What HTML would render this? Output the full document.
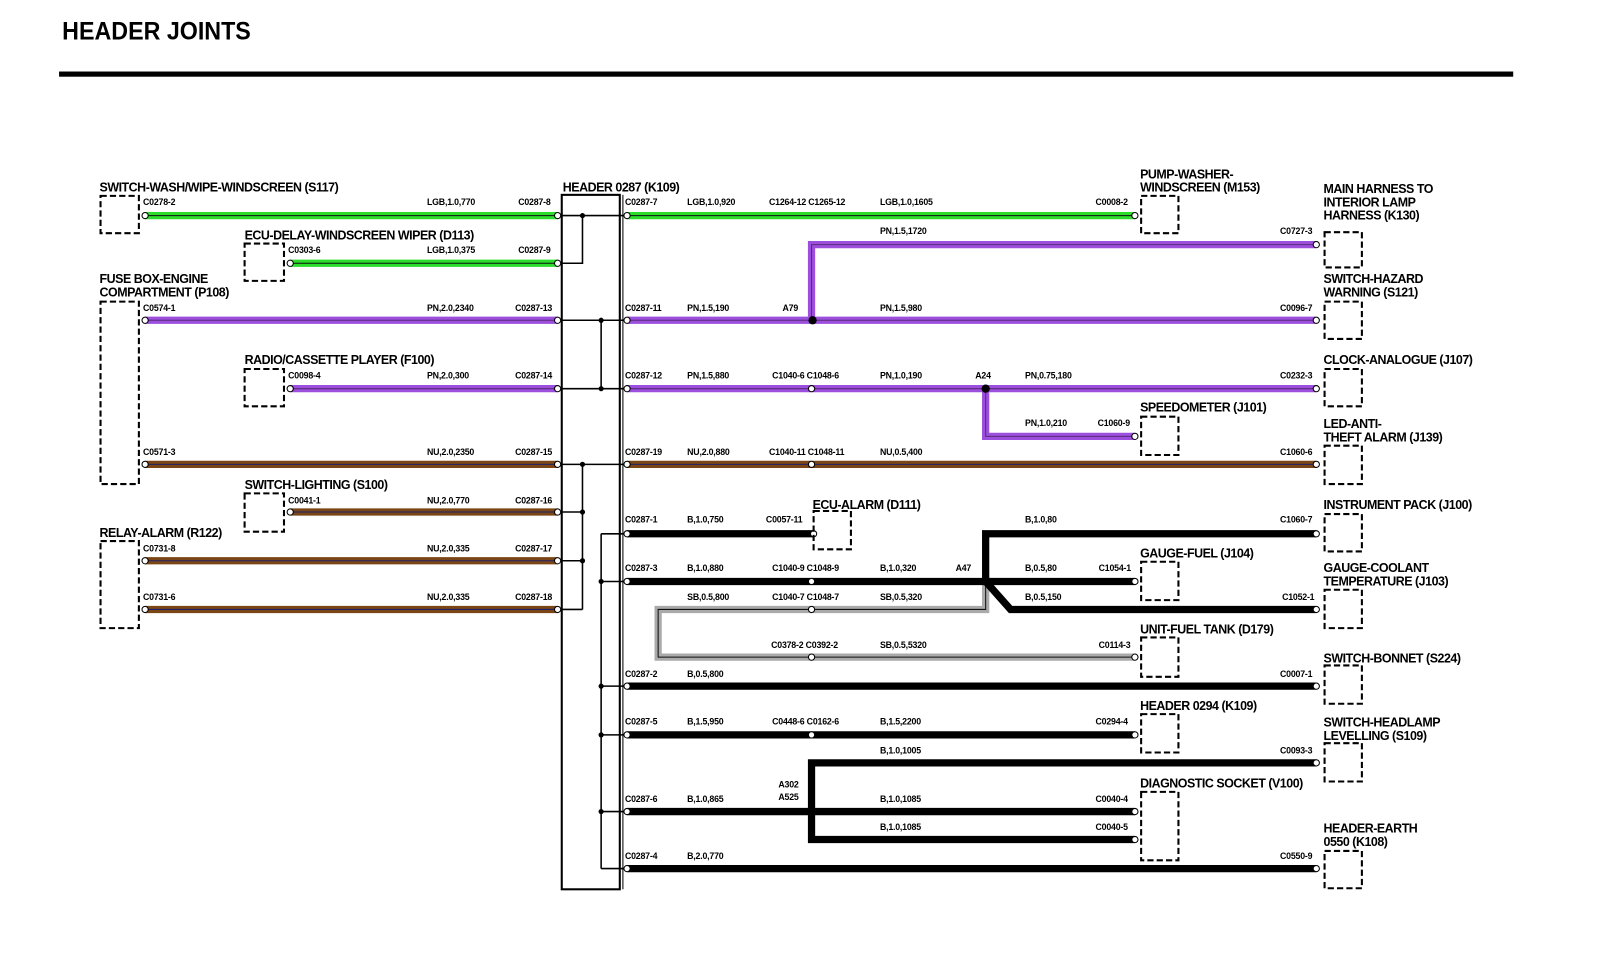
<!DOCTYPE html>
<html><head><meta charset="utf-8"><style>
html,body{margin:0;padding:0;background:#fff;}
svg{display:block;}
.t{font-family:"Liberation Sans",sans-serif;font-weight:bold;font-size:12px;letter-spacing:-0.45px;fill:#000;}
.s{font-family:"Liberation Sans",sans-serif;font-weight:bold;font-size:8.5px;letter-spacing:-0.2px;fill:#000;}
.box{fill:none;stroke:#000;stroke-width:2;stroke-dasharray:6,3;}
</style></head><body>
<svg width="1621" height="966" viewBox="0 0 1564 932" preserveAspectRatio="none" xmlns="http://www.w3.org/2000/svg">
<text x="60" y="38" style="font-family:'Liberation Sans',sans-serif;font-weight:bold;font-size:24px" textLength="182" lengthAdjust="spacingAndGlyphs">HEADER JOINTS</text>
<rect x="57" y="69" width="1403" height="5" fill="#000"/>

<rect x="542" y="188" width="56" height="670" fill="none" stroke="#000" stroke-width="2"/>
<line x1="601" y1="188" x2="601" y2="858" stroke="#000" stroke-width="1"/>

<g fill="none" stroke-linejoin="miter">
<g stroke="#2bdc2b" stroke-width="7">
<path d="M140 208H538M605 208H1095M280 254H538"/>
</g>
<g stroke="#111" stroke-width="1"><path d="M140 208H538M605 208H1095M280 254H538"/></g>
<g stroke="#9b4fdc" stroke-width="7">
<path d="M140 309H538M605 309H1270M783 309V236H1270M280 375H538M605 375H1270M951 375V421H1095"/>
</g>
<g stroke="#5a2a7a" stroke-width="1"><path d="M140 309H538M605 309H1270M783 309V236H1270M280 375H538M605 375H1270M951 375V421H1095"/></g>
<g stroke="#7a4616" stroke-width="7">
<path d="M140 448H538M605 448H1270M280 494H538M140 541H538M140 588H538"/>
</g>
<g stroke="#22226a" stroke-width="1"><path d="M140 448H538M605 448H1270M280 494H538M140 541H538M140 588H538"/></g>
<path d="M951 561V588H635V634H1095" stroke="#aaa" stroke-width="7"/>
<path d="M951 561V588H635V634H1095" stroke="#111" stroke-width="1"/>
<g stroke="#000" stroke-width="7">
<path d="M605 515H785M951 561V515H1270M605 561H1095M951 561L975 588H1270M605 662H1270M605 709H1095M783 783V736H1270M783 783V810H1095M605 783H1095M605 838H1270"/>
</g>
</g>
<circle cx="784" cy="309" r="4" fill="#000"/>
<circle cx="951" cy="375" r="4" fill="#000"/>

<g stroke="#000" stroke-width="1.5" fill="none">
<path d="M538 208H605M538 254H562V208"/>
<path d="M538 309H605M538 375H605M580 309V375"/>
<path d="M538 448H605M538 494H562M538 541H562M538 588H562M562 448V588"/>
<path d="M580 515H605M580 561H605M580 662H605M580 709H605M580 783H605M580 838H605M580 515V838"/>
</g>
<g fill="#000">
<circle cx="562" cy="208" r="2.5"/><circle cx="580" cy="309" r="2.5"/><circle cx="580" cy="375" r="2.5"/>
<circle cx="562" cy="448" r="2.5"/><circle cx="562" cy="494" r="2.5"/><circle cx="562" cy="541" r="2.5"/>
<circle cx="580" cy="561" r="2.5"/><circle cx="580" cy="662" r="2.5"/><circle cx="580" cy="709" r="2.5"/><circle cx="580" cy="783" r="2.5"/>
</g>

<g fill="#fff" stroke="#000" stroke-width="1">
<circle cx="140" cy="208" r="3"/><circle cx="538" cy="208" r="3"/><circle cx="605" cy="208" r="3"/><circle cx="1095" cy="208" r="3"/>
<circle cx="280" cy="254" r="3"/><circle cx="538" cy="254" r="3"/>
<circle cx="1270" cy="236" r="3"/>
<circle cx="140" cy="309" r="3"/><circle cx="538" cy="309" r="3"/><circle cx="605" cy="309" r="3"/><circle cx="1270" cy="309" r="3"/>
<circle cx="280" cy="375" r="3"/><circle cx="538" cy="375" r="3"/><circle cx="605" cy="375" r="3"/><circle cx="783" cy="375" r="3"/><circle cx="1270" cy="375" r="3"/>
<circle cx="1095" cy="421" r="3"/>
<circle cx="140" cy="448" r="3"/><circle cx="538" cy="448" r="3"/><circle cx="605" cy="448" r="3"/><circle cx="783" cy="448" r="3"/><circle cx="1270" cy="448" r="3"/>
<circle cx="280" cy="494" r="3"/><circle cx="538" cy="494" r="3"/>
<circle cx="140" cy="541" r="3"/><circle cx="538" cy="541" r="3"/>
<circle cx="140" cy="588" r="3"/><circle cx="538" cy="588" r="3"/>
<circle cx="605" cy="515" r="3"/><circle cx="785" cy="515" r="3"/><circle cx="1270" cy="515" r="3"/>
<circle cx="605" cy="561" r="3"/><circle cx="783" cy="561" r="3"/><circle cx="1095" cy="561" r="3"/>
<circle cx="783" cy="588" r="3"/><circle cx="1270" cy="588" r="3"/>
<circle cx="783" cy="634" r="3"/><circle cx="1095" cy="634" r="3"/>
<circle cx="605" cy="662" r="3"/><circle cx="1270" cy="662" r="3"/>
<circle cx="605" cy="709" r="3"/><circle cx="783" cy="709" r="3"/><circle cx="1095" cy="709" r="3"/>
<circle cx="1270" cy="736" r="3"/>
<circle cx="605" cy="783" r="3"/><circle cx="1095" cy="783" r="3"/><circle cx="1095" cy="810" r="3"/>
<circle cx="605" cy="838" r="3"/><circle cx="1270" cy="838" r="3"/>
</g>

<g class="box">
<rect x="97" y="189" width="37" height="36"/>
<rect x="236" y="235" width="38" height="36"/>
<rect x="97" y="291" width="37" height="176"/>
<rect x="236" y="356" width="38" height="36"/>
<rect x="236" y="476" width="38" height="37"/>
<rect x="97" y="522" width="37" height="84"/>
<rect x="1101" y="189" width="36" height="36"/>
<rect x="1278" y="224" width="36" height="34"/>
<rect x="1278" y="291" width="36" height="36"/>
<rect x="1278" y="356" width="36" height="36"/>
<rect x="1101" y="402" width="36" height="37"/>
<rect x="1278" y="430" width="36" height="37"/>
<rect x="785" y="493" width="36" height="37"/>
<rect x="1278" y="496" width="36" height="36"/>
<rect x="1101" y="542" width="36" height="37"/>
<rect x="1278" y="569" width="36" height="37"/>
<rect x="1101" y="615" width="36" height="38"/>
<rect x="1278" y="642" width="36" height="37"/>
<rect x="1101" y="689" width="36" height="37"/>
<rect x="1278" y="717" width="36" height="37"/>
<rect x="1101" y="764" width="36" height="66"/>
<rect x="1278" y="821" width="36" height="36"/>
</g>

<g class="t">
<text x="96" y="185">SWITCH-WASH/WIPE-WINDSCREEN (S117)</text>
<text x="236" y="231">ECU-DELAY-WINDSCREEN WIPER (D113)</text>
<text x="96" y="273">FUSE BOX-ENGINE</text><text x="96" y="286">COMPARTMENT (P108)</text>
<text x="236" y="351">RADIO/CASSETTE PLAYER (F100)</text>
<text x="236" y="472">SWITCH-LIGHTING (S100)</text>
<text x="96" y="518">RELAY-ALARM (R122)</text>
<text x="543" y="185">HEADER 0287 (K109)</text>
<text x="1100" y="172">PUMP-WASHER-</text><text x="1100" y="185">WINDSCREEN (M153)</text>
<text x="1277" y="186">MAIN HARNESS TO</text><text x="1277" y="199">INTERIOR LAMP</text><text x="1277" y="212">HARNESS (K130)</text>
<text x="1277" y="273">SWITCH-HAZARD</text><text x="1277" y="286">WARNING (S121)</text>
<text x="1277" y="351">CLOCK-ANALOGUE (J107)</text>
<text x="1100" y="397">SPEEDOMETER (J101)</text>
<text x="1277" y="413">LED-ANTI-</text><text x="1277" y="426">THEFT ALARM (J139)</text>
<text x="784" y="491">ECU-ALARM (D111)</text>
<text x="1277" y="491">INSTRUMENT PACK (J100)</text>
<text x="1100" y="538">GAUGE-FUEL (J104)</text>
<text x="1277" y="552">GAUGE-COOLANT</text><text x="1277" y="565">TEMPERATURE (J103)</text>
<text x="1100" y="611">UNIT-FUEL TANK (D179)</text>
<text x="1277" y="639">SWITCH-BONNET (S224)</text>
<text x="1100" y="685">HEADER 0294 (K109)</text>
<text x="1277" y="701">SWITCH-HEADLAMP</text><text x="1277" y="714">LEVELLING (S109)</text>
<text x="1100" y="760">DIAGNOSTIC SOCKET (V100)</text>
<text x="1277" y="803">HEADER-EARTH</text><text x="1277" y="816">0550 (K108)</text>
</g>

<g class="s">
<text x="138" y="198">C0278-2</text><text x="412" y="198">LGB,1.0,770</text><text x="500" y="198">C0287-8</text>
<text x="603" y="198">C0287-7</text><text x="663" y="198">LGB,1.0,920</text><text x="742" y="198">C1264-12 C1265-12</text><text x="849" y="198">LGB,1.0,1605</text><text x="1057" y="198">C0008-2</text>
<text x="849" y="226">PN,1.5,1720</text><text x="1235" y="226">C0727-3</text>
<text x="278" y="244">C0303-6</text><text x="412" y="244">LGB,1.0,375</text><text x="500" y="244">C0287-9</text>
<text x="138" y="300">C0574-1</text><text x="412" y="300">PN,2.0,2340</text><text x="497" y="300">C0287-13</text>
<text x="603" y="300">C0287-11</text><text x="663" y="300">PN,1.5,190</text><text x="755" y="300">A79</text><text x="849" y="300">PN,1.5,980</text><text x="1235" y="300">C0096-7</text>
<text x="278" y="365">C0098-4</text><text x="412" y="365">PN,2.0,300</text><text x="497" y="365">C0287-14</text>
<text x="603" y="365">C0287-12</text><text x="663" y="365">PN,1.5,880</text><text x="745" y="365">C1040-6 C1048-6</text><text x="849" y="365">PN,1.0,190</text><text x="941" y="365">A24</text><text x="989" y="365">PN,0.75,180</text><text x="1235" y="365">C0232-3</text>
<text x="989" y="411">PN,1.0,210</text><text x="1059" y="411">C1060-9</text>
<text x="138" y="439">C0571-3</text><text x="412" y="439">NU,2.0,2350</text><text x="497" y="439">C0287-15</text>
<text x="603" y="439">C0287-19</text><text x="663" y="439">NU,2.0,880</text><text x="742" y="439">C1040-11 C1048-11</text><text x="849" y="439">NU,0.5,400</text><text x="1235" y="439">C1060-6</text>
<text x="278" y="486">C0041-1</text><text x="412" y="486">NU,2.0,770</text><text x="497" y="486">C0287-16</text>
<text x="603" y="504">C0287-1</text><text x="663" y="504">B,1.0,750</text><text x="739" y="504">C0057-11</text><text x="989" y="504">B,1.0,80</text><text x="1235" y="504">C1060-7</text>
<text x="138" y="532">C0731-8</text><text x="412" y="532">NU,2.0,335</text><text x="497" y="532">C0287-17</text>
<text x="603" y="551">C0287-3</text><text x="663" y="551">B,1.0,880</text><text x="745" y="551">C1040-9 C1048-9</text><text x="849" y="551">B,1.0,320</text><text x="922" y="551">A47</text><text x="989" y="551">B,0.5,80</text><text x="1060" y="551">C1054-1</text>
<text x="663" y="579">SB,0.5,800</text><text x="745" y="579">C1040-7 C1048-7</text><text x="849" y="579">SB,0.5,320</text><text x="989" y="579">B,0.5,150</text><text x="1237" y="579">C1052-1</text>
<text x="138" y="579">C0731-6</text><text x="412" y="579">NU,2.0,335</text><text x="497" y="579">C0287-18</text>
<text x="744" y="625">C0378-2 C0392-2</text><text x="849" y="625">SB,0.5,5320</text><text x="1060" y="625">C0114-3</text>
<text x="603" y="653">C0287-2</text><text x="663" y="653">B,0.5,800</text><text x="1235" y="653">C0007-1</text>
<text x="603" y="699">C0287-5</text><text x="663" y="699">B,1.5,950</text><text x="745" y="699">C0448-6 C0162-6</text><text x="849" y="699">B,1.5,2200</text><text x="1057" y="699">C0294-4</text>
<text x="849" y="727">B,1.0,1005</text><text x="1235" y="727">C0093-3</text>
<text x="751" y="760">A302</text><text x="751" y="772">A525</text>
<text x="603" y="774">C0287-6</text><text x="663" y="774">B,1.0,865</text><text x="849" y="774">B,1.0,1085</text><text x="1057" y="774">C0040-4</text>
<text x="849" y="801">B,1.0,1085</text><text x="1057" y="801">C0040-5</text>
<text x="603" y="829">C0287-4</text><text x="663" y="829">B,2.0,770</text><text x="1235" y="829">C0550-9</text>
</g>
</svg>
</body></html>
